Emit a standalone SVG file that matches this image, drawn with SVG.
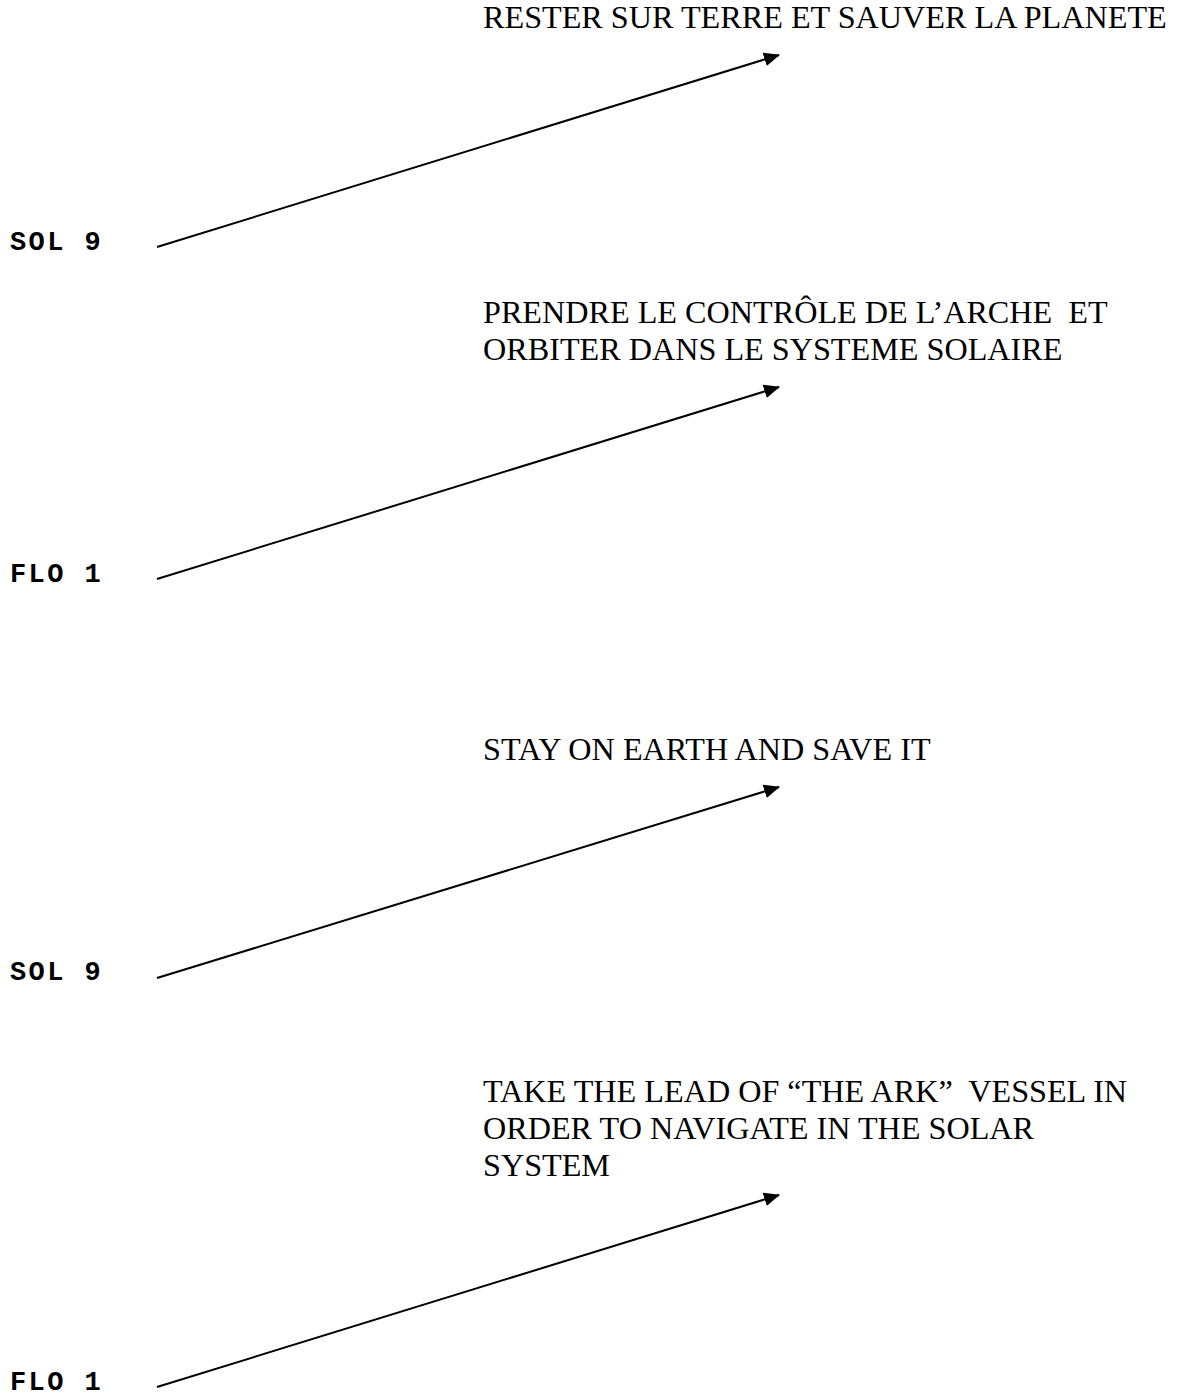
<svg xmlns="http://www.w3.org/2000/svg" width="1178" height="1397" viewBox="0 0 1178 1397">
<style>
.t{font-family:"Liberation Serif","Times New Roman",serif;font-size:32.2px;fill:#000;white-space:pre}
.l{font-family:"Liberation Mono","Courier New",monospace;font-size:27px;letter-spacing:2.4px;font-weight:bold;fill:#000}
.c{stroke:#000;stroke-width:2;fill:none;marker-end:url(#ah)}
</style>
<defs>
<marker id="ah" markerWidth="8" markerHeight="8" refX="7.5" refY="3.5" orient="auto" markerUnits="strokeWidth" viewBox="0 0 8 7">
<path d="M0,0 L8,3.5 L0,7 Z" fill="#000"/>
</marker>
</defs>
<rect width="1178" height="1397" fill="#fff"/>
<g id="n1"><text class="t" x="483" y="28">RESTER SUR TERRE ET SAUVER LA PLANETE</text></g>
<g id="n2"><text class="l" x="10" y="250">SOL 9</text></g>
<g id="n3"><text class="t" x="483" y="323">PRENDRE LE CONTRÔLE DE L’ARCHE  ET</text><text class="t" x="483" y="360">ORBITER DANS LE SYSTEME SOLAIRE</text></g>
<g id="n4"><text class="l" x="10" y="582">FLO 1</text></g>
<g id="n5"><text class="t" x="483" y="760">STAY ON EARTH AND SAVE IT</text></g>
<g id="n6"><text class="l" x="10" y="980">SOL 9</text></g>
<g id="n7"><text class="t" x="483" y="1102">TAKE THE LEAD OF “THE ARK”  VESSEL IN</text><text class="t" x="483" y="1139">ORDER TO NAVIGATE IN THE SOLAR</text><text class="t" x="483" y="1176">SYSTEM</text></g>
<g id="n8"><text class="l" x="10" y="1390">FLO 1</text></g>
<g id="connectors">
<line class="c" x1="157" y1="247" x2="779" y2="55"/>
<line class="c" x1="157" y1="579" x2="779" y2="387"/>
<line class="c" x1="157" y1="978" x2="779" y2="787"/>
<line class="c" x1="157" y1="1387" x2="779" y2="1195"/>
</g>
</svg>
